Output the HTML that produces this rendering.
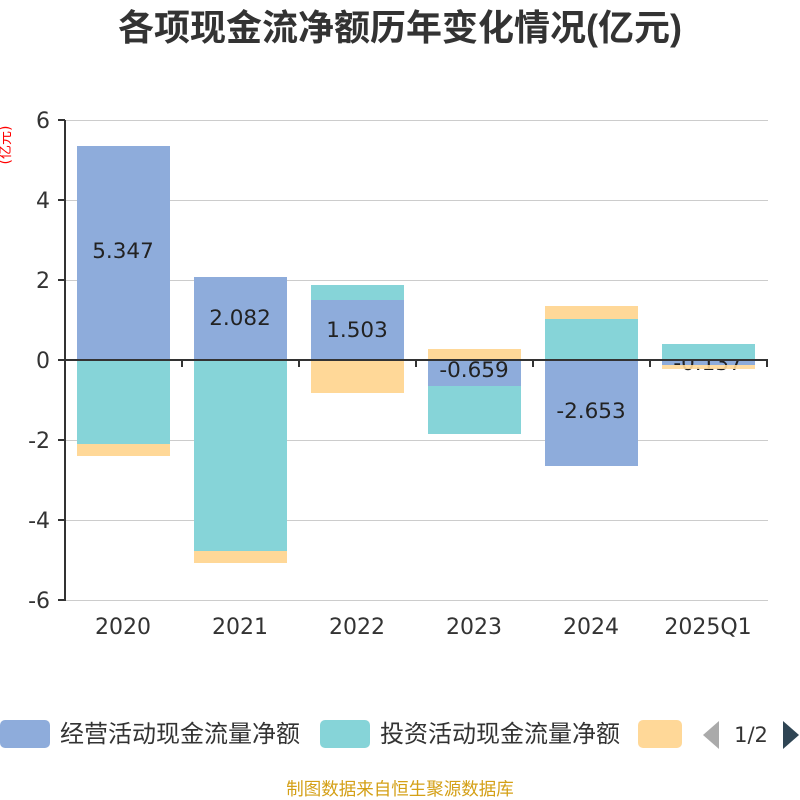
<!DOCTYPE html>
<html><head><meta charset="utf-8"><style>
html,body{margin:0;padding:0;background:#fff;}
svg{display:block;font-family:"DejaVu Sans","Noto Sans CJK SC",sans-serif;}
</style></head><body>
<svg width="800" height="800" viewBox="0 0 800 800" xmlns="http://www.w3.org/2000/svg">
<rect width="800" height="800" fill="#fff"/>
<text x="400" y="40" text-anchor="middle" font-size="36" font-weight="bold" fill="#333" font-family="Liberation Sans, Noto Sans CJK SC, sans-serif">各项现金流净额历年变化情况(亿元)</text>
<g stroke="#ccc" stroke-width="1">
<line x1="65" y1="120.5" x2="768" y2="120.5"/>
<line x1="65" y1="200.5" x2="768" y2="200.5"/>
<line x1="65" y1="280.5" x2="768" y2="280.5"/>
<line x1="65" y1="440.5" x2="768" y2="440.5"/>
<line x1="65" y1="520.5" x2="768" y2="520.5"/>
<line x1="65" y1="600.5" x2="768" y2="600.5"/>
</g>
<g font-size="22" fill="#333" text-anchor="end">
<text x="50" y="128">6</text><text x="50" y="208">4</text><text x="50" y="288">2</text>
<text x="50" y="368">0</text><text x="50" y="448">-2</text><text x="50" y="528">-4</text><text x="50" y="608">-6</text>
</g>
<text transform="translate(10,145) rotate(-90)" font-size="14" fill="red" text-anchor="middle">(亿元)</text>
<g>
<rect x="77" y="146" width="93" height="214" fill="#8eacdb"/>
<rect x="77" y="360" width="93" height="84" fill="#86d4d8"/>
<rect x="77" y="444" width="93" height="12" fill="#ffd898"/>
<rect x="194" y="277" width="93" height="83" fill="#8eacdb"/>
<rect x="194" y="360" width="93" height="191" fill="#86d4d8"/>
<rect x="194" y="551" width="93" height="12" fill="#ffd898"/>
<rect x="311" y="300" width="93" height="60" fill="#8eacdb"/>
<rect x="311" y="285" width="93" height="15" fill="#86d4d8"/>
<rect x="311" y="360" width="93" height="33" fill="#ffd898"/>
<rect x="428" y="360" width="93" height="26" fill="#8eacdb"/>
<rect x="428" y="386" width="93" height="48" fill="#86d4d8"/>
<rect x="428" y="349" width="93" height="11" fill="#ffd898"/>
<rect x="545" y="360" width="93" height="106" fill="#8eacdb"/>
<rect x="545" y="319" width="93" height="41" fill="#86d4d8"/>
<rect x="545" y="306" width="93" height="13" fill="#ffd898"/>
<rect x="662" y="360" width="93" height="5" fill="#8eacdb"/>
</g>
<g font-size="21.5" fill="#222" text-anchor="middle">
<text x="123" y="258">5.347</text>
<text x="240" y="325">2.082</text>
<text x="357" y="337">1.503</text>
<text x="474" y="377">-0.659</text>
<text x="591" y="418">-2.653</text>
<text x="708" y="370">-0.137</text>
</g>
<rect x="662" y="344" width="93" height="16" fill="#86d4d8"/>
<rect x="662" y="365" width="93" height="4" fill="#ffd898" fill-opacity="0.9"/>
<g stroke="#333" stroke-width="2">
<line x1="65" y1="120" x2="65" y2="601"/>
<line x1="64" y1="360" x2="768" y2="360"/>
<line x1="58" y1="120" x2="65" y2="120"/><line x1="58" y1="200" x2="65" y2="200"/>
<line x1="58" y1="280" x2="65" y2="280"/><line x1="58" y1="360" x2="65" y2="360"/>
<line x1="58" y1="440" x2="65" y2="440"/><line x1="58" y1="520" x2="65" y2="520"/>
<line x1="58" y1="600" x2="65" y2="600"/>
<line x1="182" y1="360" x2="182" y2="367"/><line x1="299" y1="360" x2="299" y2="367"/>
<line x1="416" y1="360" x2="416" y2="367"/><line x1="533" y1="360" x2="533" y2="367"/>
<line x1="650" y1="360" x2="650" y2="367"/><line x1="767" y1="360" x2="767" y2="367"/>
</g>
<g font-size="22" fill="#333" text-anchor="middle">
<text x="123" y="634">2020</text><text x="240" y="634">2021</text><text x="357" y="634">2022</text>
<text x="474" y="634">2023</text><text x="591" y="634">2024</text><text x="708" y="634">2025Q1</text>
</g>
<rect x="0" y="720" width="50" height="28" rx="5" fill="#8eacdb"/>
<text x="60" y="742" font-size="24" fill="#333">经营活动现金流量净额</text>
<rect x="320" y="720" width="50" height="28" rx="5" fill="#86d4d8"/>
<text x="380" y="742" font-size="24" fill="#333">投资活动现金流量净额</text>
<rect x="638" y="720" width="44" height="28" rx="5" fill="#ffd898"/>
<polygon points="719,721 719,749 703,735" fill="#aaa"/>
<text x="751" y="742" font-size="21" fill="#333" text-anchor="middle">1/2</text>
<polygon points="783,721 783,749 799,735" fill="#2f4554"/>
<text x="400" y="795" font-size="17.5" fill="#d4a017" text-anchor="middle">制图数据来自恒生聚源数据库</text>
</svg>
</body></html>
